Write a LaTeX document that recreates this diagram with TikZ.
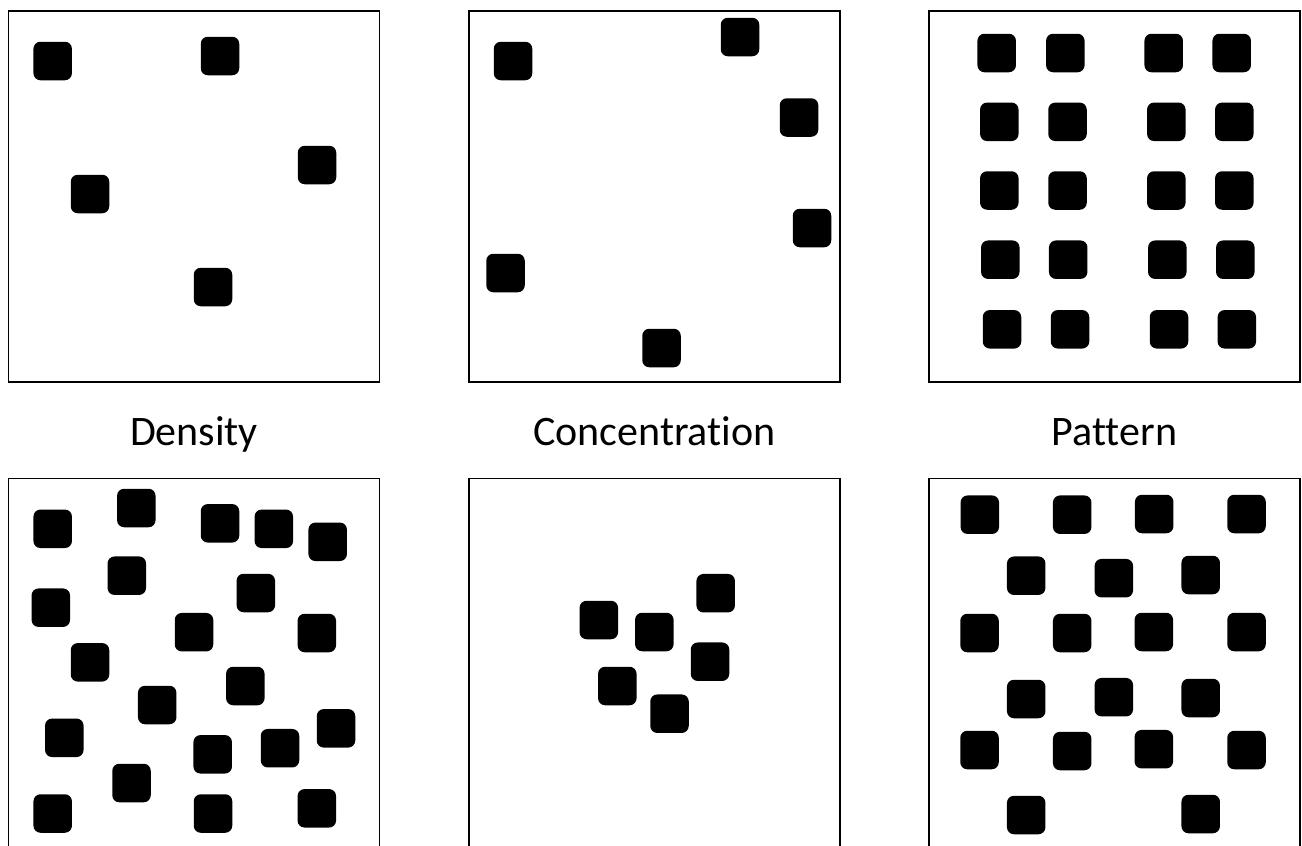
\documentclass[tikz,border=0pt]{standalone}
\usepackage{fontspec}
\setmainfont{Carlito}[Ligatures=NoCommon]
\usetikzlibrary{positioning}

\begin{document}
\begin{tikzpicture}[x=1pt,y=-1pt,
  panel/.style={draw,line width=1.5pt,minimum width=371pt,minimum height=371pt,inner sep=0pt},
  blob/.style={fill=black,rounded corners=7pt,minimum size=38.5pt,inner sep=0pt},
  caption/.style={font=\fontsize{42}{50}\selectfont,anchor=base,inner sep=0pt}
]
  \useasboundingbox (0,0) rectangle (1302,846);
  \clip (0,0) rectangle (1302,846);

  % Top row: low density, spread out, grid
  \node[panel] (sparse) at (194,196.3) {};
  \node[panel] (spread) at (654.3,196.3) {};
  \node[panel] (grid) at (1114.5,196.3) {};

  % Bottom row: high density, clustered, staggered
  \node[panel] (dense) at (194,664) {};
  \node[panel] (cluster) at (654.3,664) {};
  \node[panel] (stagger) at (1114.5,664) {};

  % Captions between the rows
  \node[caption] (density) at (194,445) {Density};
  \node[caption] (concentration) at (654.3,445) {Concentration};
  \node[caption] (pattern) at (1114.5,445) {Pattern};

  % Squares, top row
  \foreach \px/\py [count=\i] in {52.7/61,220/56,90/194,317/165,213/287}
    \node[blob] (sparse-\i) at (\px,\py) {};
  \foreach \px/\py [count=\i] in {513/61,740/37,799/117.5,812/228,505.5/273,661.5/348}
    \node[blob] (spread-\i) at (\px,\py) {};
  \foreach \px/\py [count=\i] in {
      996.7/53,1065.3/53,1163.7/53,1231.7/53,
      999.3/121.8,1067.5/121.8,1166.3/121.8,1234.3/121.8,
      999.3/190.5,1067.5/190.5,1166.3/190.5,1234.3/190.5,
      1000.3/259.7,1068.2/259.7,1167.3/259.7,1235.3/259.7,
      1002/329.3,1070/329.3,1169/329.3,1236.8/329.3}
    \node[blob] (grid-\i) at (\px,\py) {};

  % Squares, bottom row
  \foreach \px/\py [count=\i] in {
      52.7/528.8,136.3/508,220/523.3,273.8/528.8,327.7/541.8,
      126.8/575.7,50.8/607.7,255.8/593,194/632.2,316.8/633,
      90/662.3,245.3/686,157.2/705,64.3/737.8,336/728.3,
      280/748.2,212.7/754.3,131.5/783,52.7/813.5,213/813.5,316.8/808.3}
    \node[blob] (dense-\i) at (\px,\py) {};
  \foreach \px/\py [count=\i] in {715.7/593.2,598.8/620,654.3/632,710/661.7,617.3/686,669.5/713.7}
    \node[blob] (cluster-\i) at (\px,\py) {};
  \foreach \px/\py [count=\i] in {
      979.8/514.7,1072.2/514.7,1154.2/514,1246.5/514,
      1026.2/575.7,1113.8/578.2,1200.7/575,
      979.5/633,1072.2/633,1153.8/632,1246.5/632,
      1026.2/699,1113.8/697.2,1200.7/698,
      979.5/750,1072.2/751,1153.8/749.2,1246.5/750,
      1026.2/815,1200.7/814}
    \node[blob] (stagger-\i) at (\px,\py) {};
\end{tikzpicture}
\end{document}
